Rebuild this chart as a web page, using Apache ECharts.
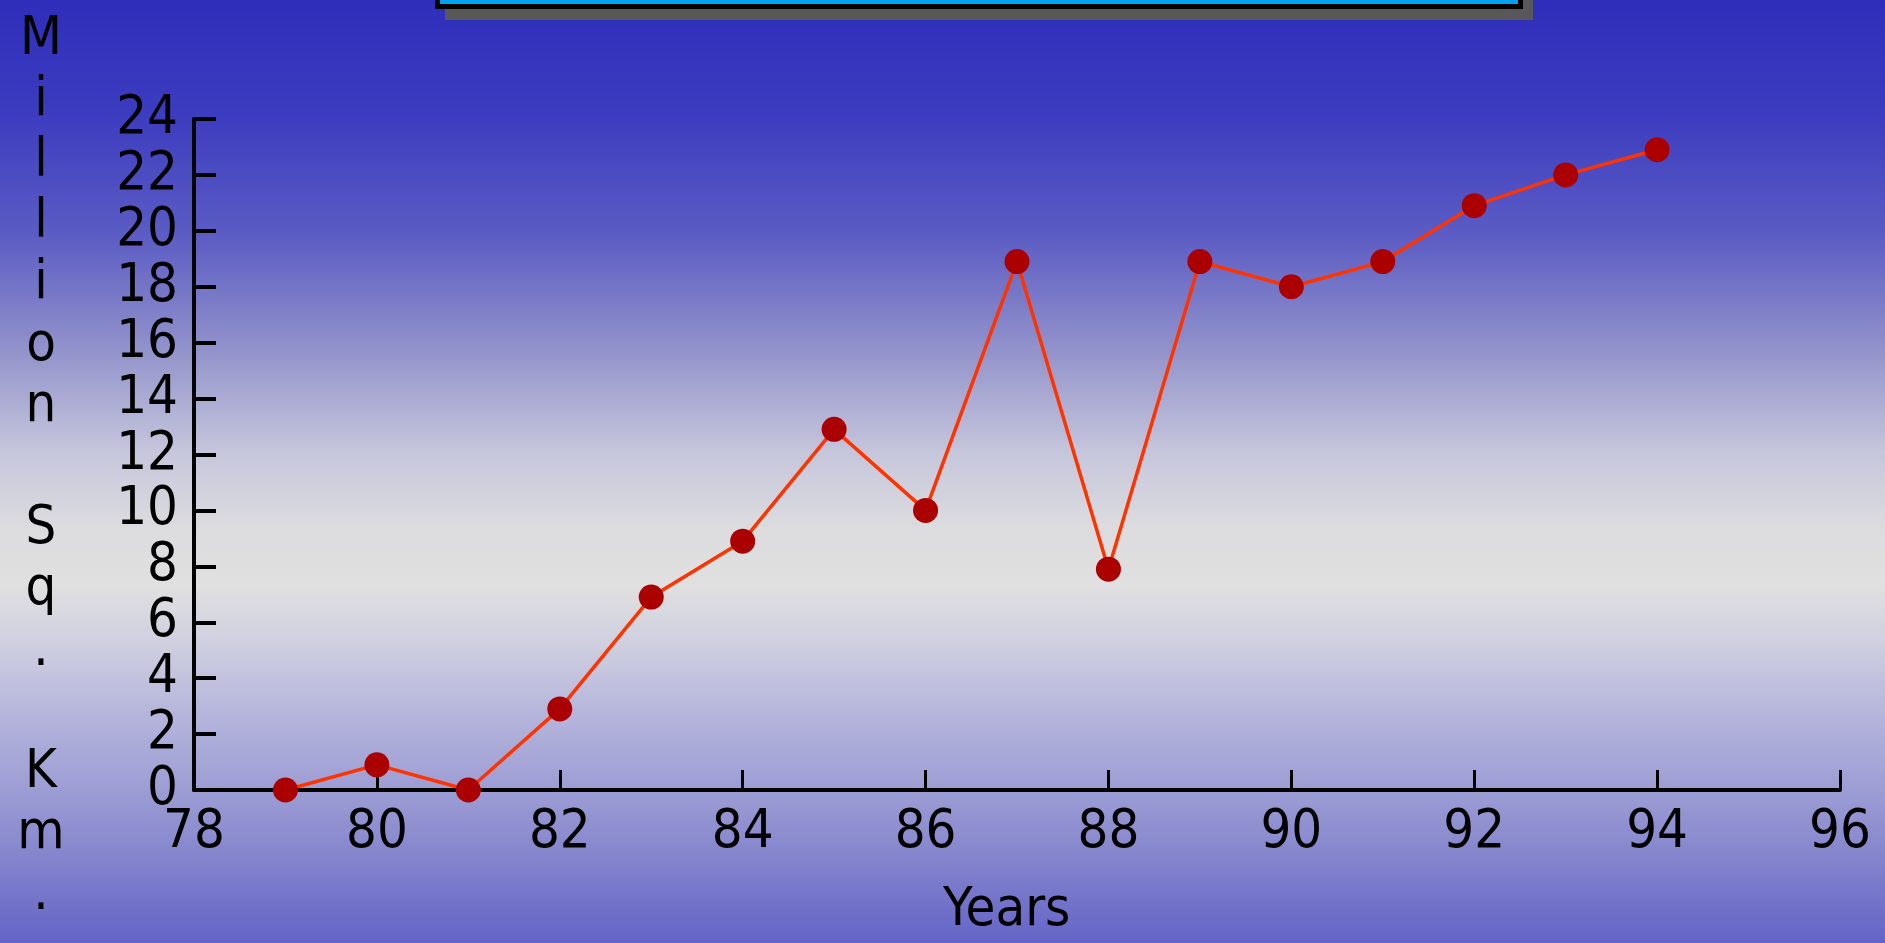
<!DOCTYPE html>
<html>
<head>
<meta charset="utf-8">
<script src="https://cdn.jsdelivr.net/npm/echarts@6/dist/echarts.min.js"></script>
<style>
html,body{margin:0;padding:0;width:1885px;height:943px;overflow:hidden;}
#chart{width:1885px;height:943px;}
</style>
</head>
<body>
<div id="chart"></div>
<script>
const years = [79, 80, 81, 82, 83, 84, 85, 86, 87, 88, 89, 90, 91, 92, 93, 94];
const areaValues = [0, 0.9, 0, 2.9, 6.9, 8.9, 12.9, 10, 18.9, 7.9, 18.9, 18, 18.9, 20.9, 22, 22.9];
const xTicks = [78, 80, 82, 84, 86, 88, 90, 92, 94, 96];
const yTicks = [0, 2, 4, 6, 8, 10, 12, 14, 16, 18, 20, 22, 24];
const xAxisTitle = 'Years';
const yAxisTitle = 'Million Sq. Km.';

const FONT = "'DejaVu Sans Condensed', 'DejaVu Sans', sans-serif";
const chart = echarts.init(document.getElementById('chart'));

const points = years.map((y, i) => [y, areaValues[i]]);

// one text element per character of the vertical axis title, all centred on one column
const titleChars = yAxisTitle.split('').map(c => c === ' ' ? '' : c);
const titleElems = titleChars.map((c, i) => ({
  type: 'text', z: 10, silent: true,
  x: 41, y: 13 + i * 61.1,
  style: {
    text: c,
    font: '54px ' + FONT,
    fill: '#000',
    align: 'center',
    textAlign: 'center',
    verticalAlign: 'top',
    textVerticalAlign: 'top'
  }
}));

chart.setOption({
  animation: false,
  backgroundColor: 'transparent',
  graphic: [
    {
      type: 'rect', z: -10, silent: true,
      shape: { x: 0, y: 0, width: 1885, height: 943 },
      style: {
        fill: new echarts.graphic.LinearGradient(0, 0, 0, 1, [
          { offset: 0.00, color: '#2e2ebb' },
          { offset: 0.12, color: '#3c3cc0' },
          { offset: 0.25, color: '#5c5cc4' },
          { offset: 0.38, color: '#9696cc' },
          { offset: 0.48, color: '#c6c6dc' },
          { offset: 0.56, color: '#dcdcdf' },
          { offset: 0.62, color: '#e0e0e0' },
          { offset: 0.68, color: '#d0d0e0' },
          { offset: 0.76, color: '#b4b4dc' },
          { offset: 0.84, color: '#9c9cd4' },
          { offset: 0.92, color: '#8080cc' },
          { offset: 1.00, color: '#6464c8' }
        ])
      }
    },
    { type: 'rect', z: 5, silent: true, shape: { x: 445, y: -10, width: 1088, height: 30 }, style: { fill: '#585858' } },
    { type: 'rect', z: 6, silent: true, shape: { x: 435, y: -10, width: 1088, height: 19 }, style: { fill: '#000000' } },
    { type: 'rect', z: 7, silent: true, shape: { x: 440, y: -10, width: 1078, height: 14 }, style: { fill: '#00a0f0' } },
    ...titleElems,
    {
      type: 'text', z: 10, silent: true,
      left: 943, top: 884,
      style: { text: xAxisTitle, font: '54px ' + FONT, fill: '#000' }
    }
  ],
  grid: { left: 194, right: 45, top: 119, bottom: 153, containLabel: false },
  xAxis: {
    type: 'value', min: xTicks[0], max: xTicks[xTicks.length - 1], interval: 2,
    axisLine: { show: true, lineStyle: { color: '#000', width: 4 } },
    axisTick: { show: true, inside: true, length: 20, lineStyle: { color: '#000', width: 3 } },
    axisLabel: { color: '#000', fontFamily: FONT, fontSize: 54, margin: 16 },
    splitLine: { show: false }
  },
  yAxis: {
    type: 'value', min: yTicks[0], max: yTicks[yTicks.length - 1], interval: 2,
    axisLine: { show: true, lineStyle: { color: '#000', width: 4 } },
    axisTick: { show: true, inside: true, length: 22, lineStyle: { color: '#000', width: 4 } },
    axisLabel: { color: '#000', fontFamily: FONT, fontSize: 54, margin: 16 },
    splitLine: { show: false }
  },
  series: [{
    type: 'line',
    data: points,
    symbol: 'circle',
    symbolSize: 25,
    itemStyle: { color: '#aa0000', borderWidth: 0 },
    lineStyle: { color: '#ff3300', width: 3.5 },
    z: 3
  }]
});
</script>
</body>
</html>
